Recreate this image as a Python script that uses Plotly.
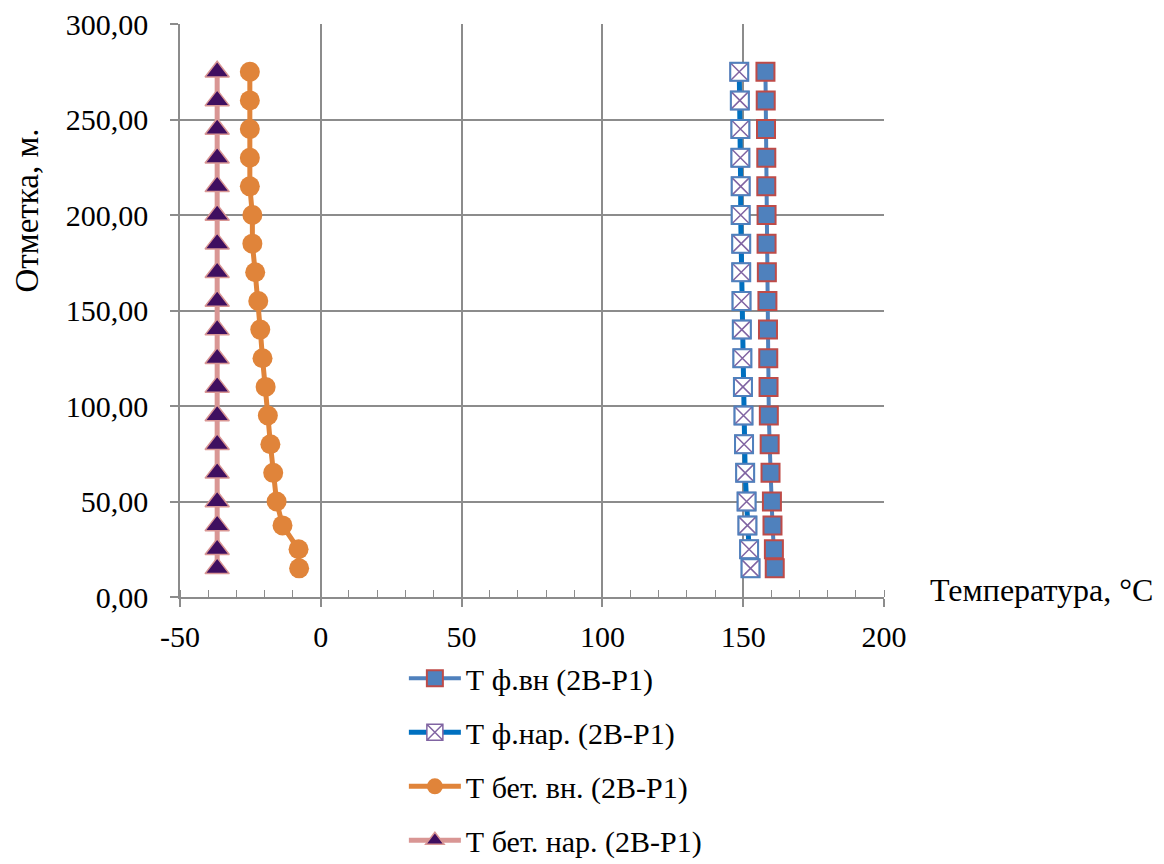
import plotly.graph_objects as go

# ---- data ----
elevation = [275, 260, 245, 230, 215, 200, 185, 170, 155, 140, 125, 110, 95, 80, 65, 50, 37.5, 25, 15]
t_f_vn = [157.9, 158.0, 158.1, 158.2, 158.2, 158.3, 158.3, 158.4, 158.6, 158.8, 158.9, 159.0, 159.1, 159.4, 159.7, 160.2, 160.4, 160.9, 161.2]
t_f_nar = [148.6, 148.8, 149.0, 149.0, 149.1, 149.1, 149.3, 149.3, 149.4, 149.5, 149.7, 149.9, 150.1, 150.3, 150.7, 151.2, 151.5, 152.1, 152.6]
t_bet_vn = [-25.2, -25.2, -25.2, -25.2, -25.2, -24.3, -24.3, -23.3, -22.2, -21.5, -20.7, -19.6, -18.8, -17.9, -16.9, -15.7, -13.6, -7.9, -7.7]
t_bet_nar = [-36.8] * 19

series_names = ["Т ф.вн (2В-Р1)", "Т ф.нар. (2В-Р1)", "Т бет. вн. (2В-Р1)", "Т бет. нар. (2В-Р1)"]
x_tick_vals = [-50, 0, 50, 100, 150, 200]
x_tick_text = ["-50", "0", "50", "100", "150", "200"]
y_tick_vals = [0, 50, 100, 150, 200, 250, 300]
y_tick_text = ["0,00", "50,00", "100,00", "150,00", "200,00", "250,00", "300,00"]
x_title = "Температура, °С"
y_title = "Отметка, м."

FONT = "Times New Roman, Liberation Serif, DejaVu Serif, serif"
GRID = "#8c8c8c"

fig = go.Figure()

fig.add_trace(go.Scatter(
    x=t_f_vn, y=elevation, mode="lines+markers", name=series_names[0],
    legendgroup="g1",
    line=dict(color="#4f81bd", width=4),
    marker=dict(symbol="square", size=18, color="#4f81bd", line=dict(color="#be4b48", width=2)),
))
fig.add_trace(go.Scatter(
    x=t_f_nar, y=elevation, mode="lines+markers", name=series_names[1],
    legendgroup="g2",
    line=dict(color="#0070c0", width=5),
    marker=dict(symbol="square-x", size=18, color="white", line=dict(color="#8064a2", width=1.5)),
))
fig.add_trace(go.Scatter(
    x=t_f_nar, y=elevation, mode="markers", showlegend=False,
    legendgroup="g2", hoverinfo="skip",
    marker=dict(symbol="square-open", size=18, color="#4f81bd", line=dict(color="#4f81bd", width=2)),
))
fig.add_trace(go.Scatter(
    x=t_bet_vn, y=elevation, mode="lines+markers", name=series_names[2],
    legendgroup="g3",
    line=dict(color="#e0843a", width=5),
    marker=dict(symbol="circle", size=20, color="#e0843a", line=dict(color="#e0843a", width=0)),
))
fig.add_trace(go.Scatter(
    x=t_bet_nar, y=elevation, mode="lines+markers", name=series_names[3],
    legendgroup="g4",
    line=dict(color="#d99694", width=5),
    marker=dict(symbol="triangle-up", size=21, color="#3f0f60", line=dict(color="#d99694", width=1.5)),
))

fig.update_layout(
    width=1164, height=864,
    margin=dict(l=180, r=280, t=24, b=267, autoexpand=False),
    paper_bgcolor="white", plot_bgcolor="white",
    font=dict(family=FONT, size=30, color="black"),
    showlegend=True,
    legend=dict(
        x=0.318, y=-0.0965, xanchor="left", yanchor="top",
        font=dict(family=FONT, size=30, color="black"),
        tracegroupgap=12, itemwidth=52, bgcolor="rgba(0,0,0,0)",
    ),
    xaxis=dict(
        range=[-50, 200], tickvals=x_tick_vals, ticktext=x_tick_text,
        showgrid=True, gridcolor=GRID, gridwidth=1.5,
        showline=True, linecolor=GRID, linewidth=1.5,
        ticks="outside", ticklen=8, tickcolor=GRID, tickwidth=1.5,
        minor=dict(dtick=10, tick0=0, ticks="inside", ticklen=7, tickcolor=GRID, tickwidth=1, showgrid=False),
        zeroline=False, tickfont=dict(family=FONT, size=30), automargin=False,
        ticklabelstandoff=4,
    ),
    yaxis=dict(
        range=[0, 300], tickvals=y_tick_vals, ticktext=y_tick_text,
        showgrid=True, gridcolor=GRID, gridwidth=1.5,
        showline=True, linecolor=GRID, linewidth=1.5,
        ticks="outside", ticklen=8, tickcolor=GRID, tickwidth=1.5,
        zeroline=False, tickfont=dict(family=FONT, size=30), automargin=False,
        ticklabelstandoff=16,
    ),
    annotations=[
        dict(text=x_title, xref="paper", yref="paper", x=1.0625, y=0.012,
             xanchor="left", yanchor="middle", showarrow=False,
             font=dict(family=FONT, size=32, color="black")),
        dict(text=y_title, xref="paper", yref="paper", x=-0.217, y=0.675,
             xanchor="center", yanchor="middle", textangle=-90, showarrow=False,
             font=dict(family=FONT, size=33, color="black")),
    ],
)

fig.write_html("out.html", config={"displayModeBar": False},
               post_script="document.body.style.margin='0px';")
